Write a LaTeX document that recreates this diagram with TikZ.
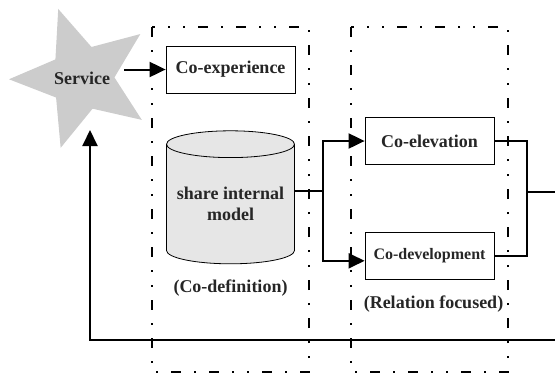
\documentclass[tikz,border=0pt]{standalone}
\usepackage{fontspec}
\setmainfont{Liberation Serif}
\usetikzlibrary{arrows.meta}
\usetikzlibrary{positioning}
\usetikzlibrary{shapes.geometric}
\definecolor{stargray}{RGB}{204,204,204}
\definecolor{drumgray}{RGB}{230,230,230}
\tikzset {
  % dash-dot frame around a stage
  stage/.style = {
    draw = black,
    line width = 1.8bp,
    dash pattern = on 10bp off 13bp on 2bp off 13bp on 10bp off 13bp on 2bp off 13bp on 2bp off 13bp
  },
  link/.style = {
    draw = black,
    line width = 2bp
  },
  % link with an arrow at its end
  flow/.style = {
    link,
    -{Triangle[length = 16bp, width = 15bp]}
  }
}
\tikzset {
  box/.style = {
    draw = black,
    line width = 0.8bp,
    rectangle,
    minimum width = 129bp,
    minimum height = 47bp,
    inner sep = 0
  },
  drum/.style = {
    draw = black,
    line width = 0.8bp,
    fill = drumgray,
    cylinder,
    shape border rotate = 90,
    aspect = 0.25,
    minimum width = 128bp,
    minimum height = 133bp,
    align = center,
    inner sep = 0
  },
  % star with its text set as a centred label
  burst/.style = {
    star,
    star points = 5,
    star point ratio = 2.25,
    shape border rotate = 19,
    minimum size = 146bp,
    fill = stargray,
    inner sep = 0,
    label = {center:#1}
  },
  caption/.style = {
    inner sep = 0
  },
  smalltext/.style = {
    font = \fontsize{16bp}{19bp}\selectfont\bfseries
  }
}

\begin{document}
\begin{tikzpicture}[x = 1bp, y = -1bp, font = \fontsize{18bp}{21bp}\selectfont\bfseries, text = black!85]
    \useasboundingbox (0,0) rectangle (555,379);
    \draw[stage] (152,27) rectangle (309,372);
    \draw[stage] (351,27) rectangle (508,372);

    \node[burst = Service] (service) at (82,78) {};
    \node[box] (coexp) at (230.5,69.5) {Co-experience};
    \node[drum] (model) [below=37bp of coexp] {share internal\\model};
    \node[caption] (codef) [below=15bp of model] {(Co-definition)};
    \node[box] (coelev) at (429.5,141) {Co-elevation};
    \node[box, smalltext] (codev) [below=67bp of coelev] {Co-development};
    \node[caption] (relfoc) [below=16bp of codev, xshift=4bp] {(Relation focused)};

    \coordinate (split) at (323,191);
    \coordinate (join) at (527,192);
    \coordinate (out) at (555,192);
    \coordinate (back) at (555,340);
    \coordinate (back-up) at (90,130);

    \draw[flow] (service.east |- coexp.west) ++(9,0) -- (coexp.west);
    \draw[link] (model.east |- split) -- (split);
    \draw[flow] (split) |- (coelev.west);
    \draw[flow] (split) |- ([yshift=-5bp]codev.west);
    \draw[link] (coelev.east) -| (join) |- (codev.east);
    \draw[link] (join) -- (out);
    \draw[flow] (back) -| (back-up);
  \end{tikzpicture}
\end{document}
